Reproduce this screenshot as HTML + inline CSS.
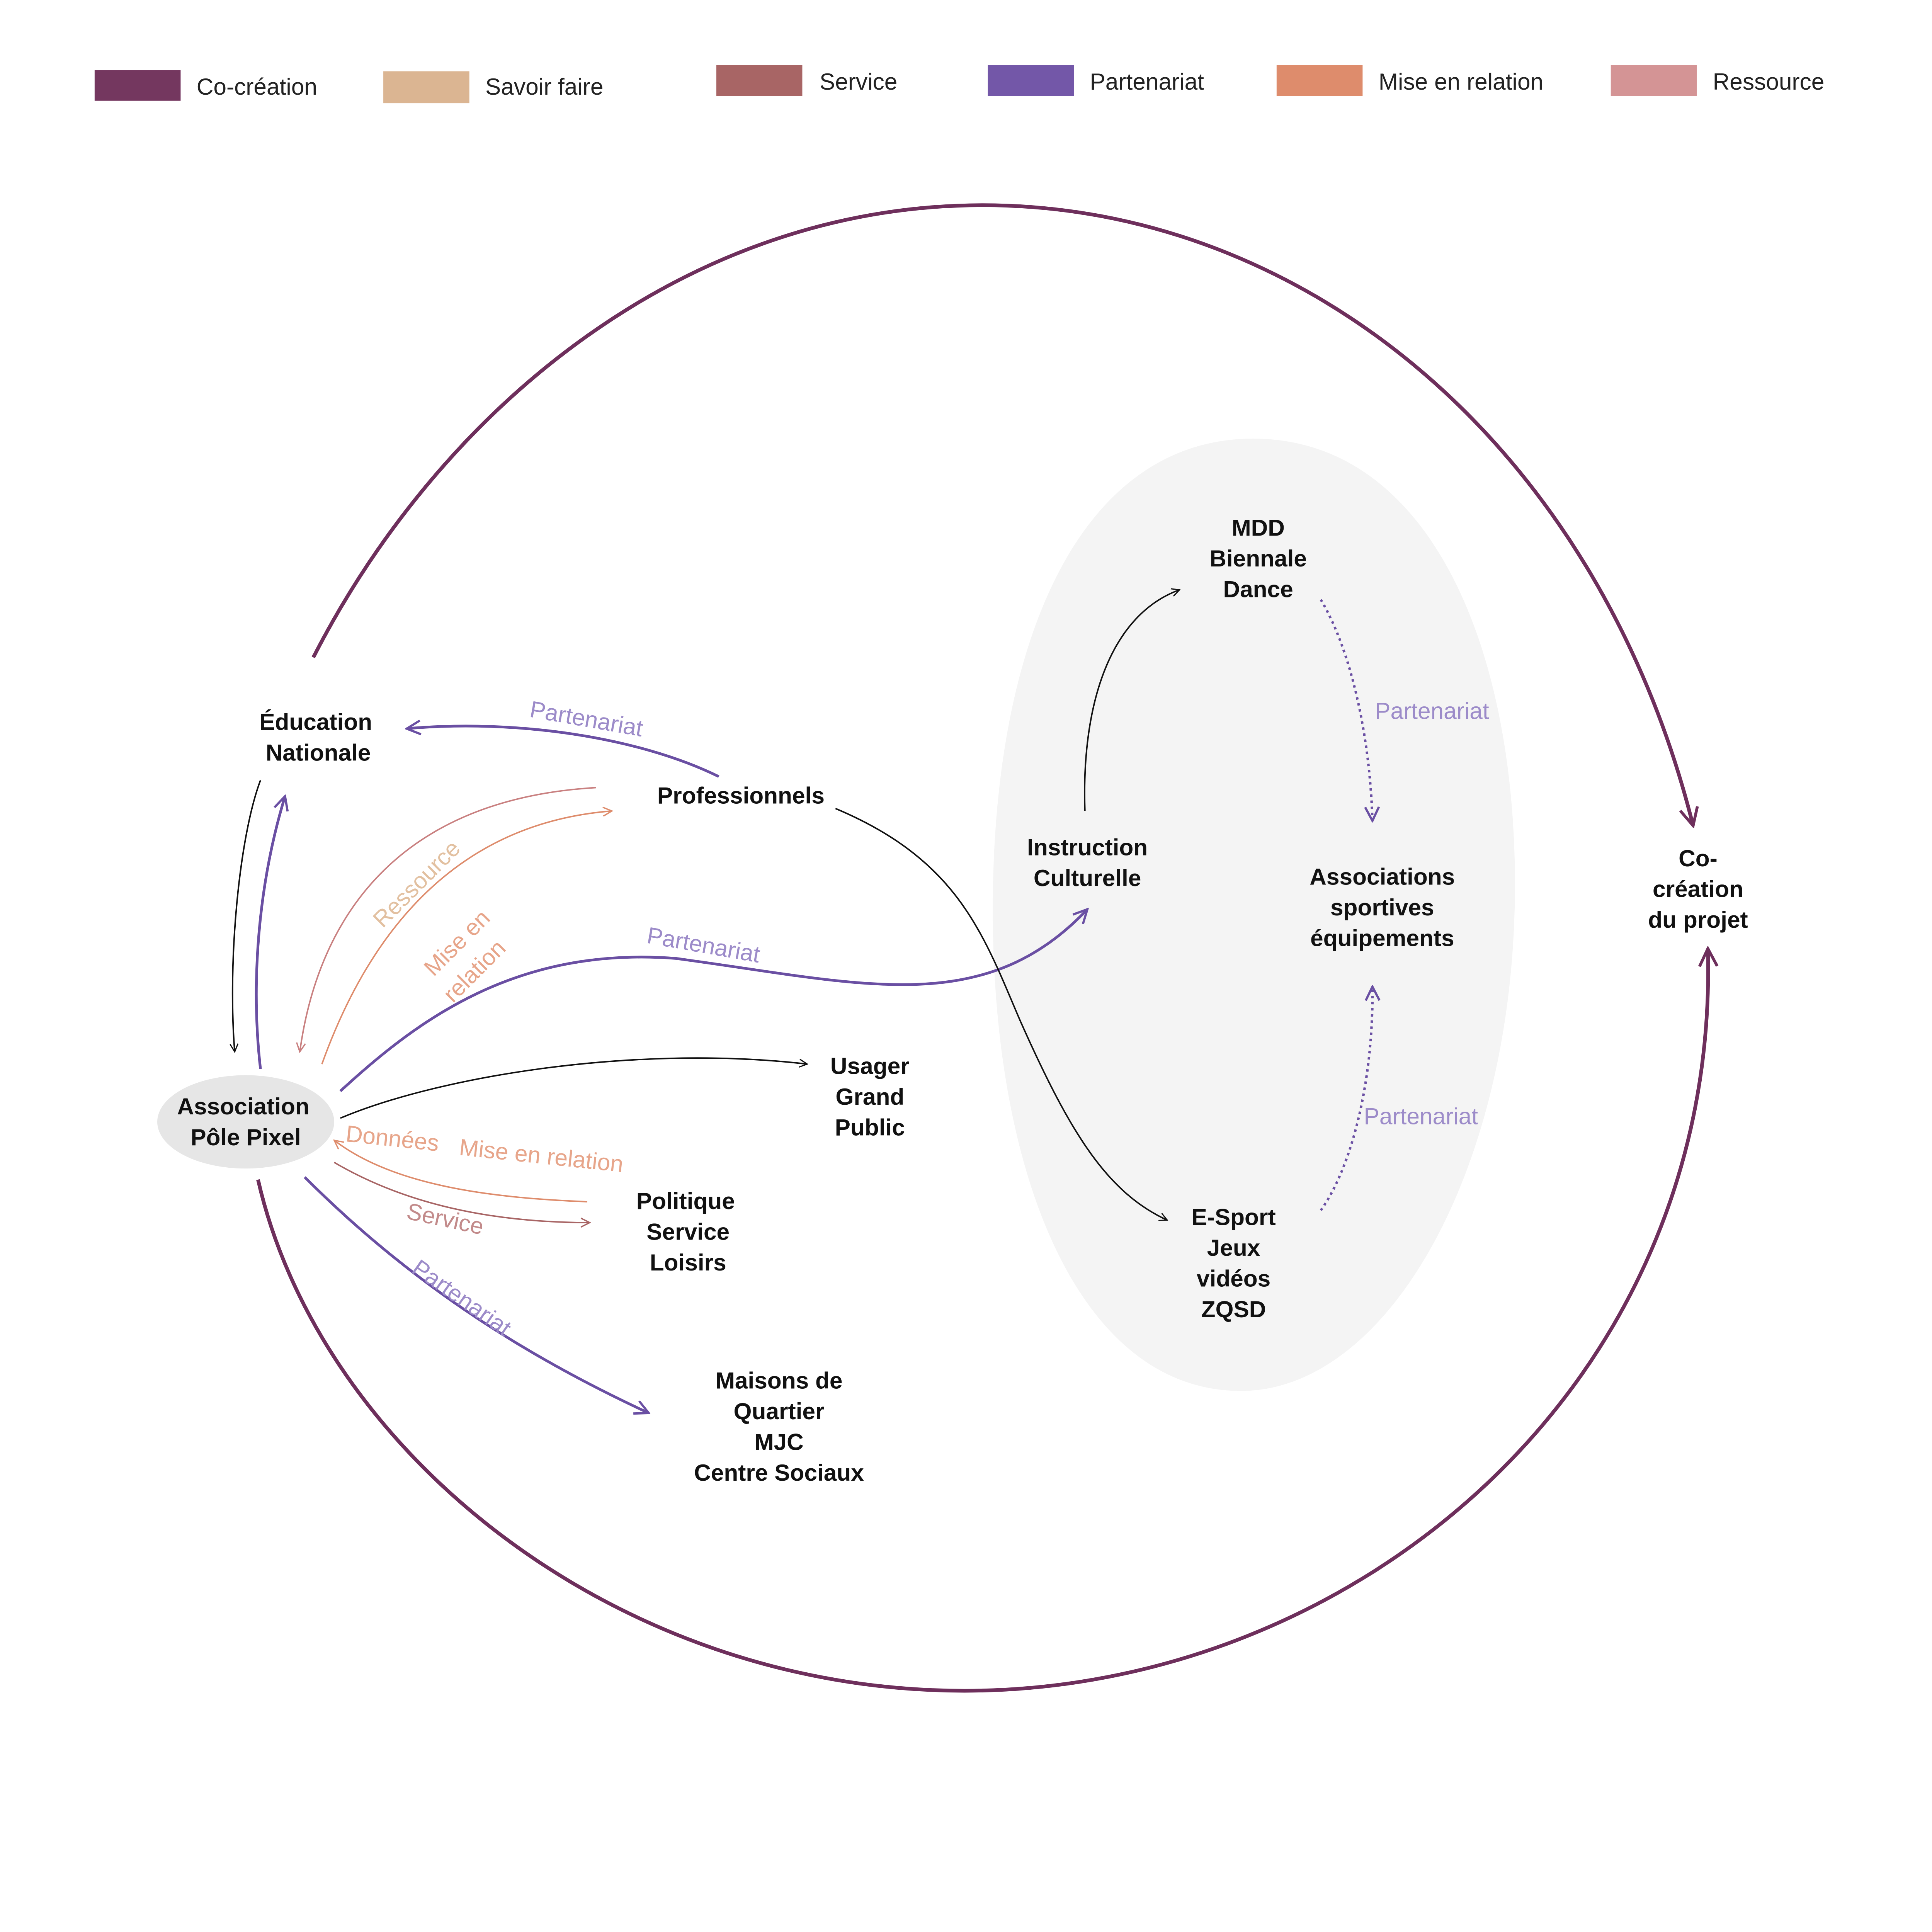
<!DOCTYPE html>
<html><head><meta charset="utf-8"><style>
html,body{margin:0;padding:0;background:#fff;overflow:hidden;}
svg{display:block;}
text{font-family:"Liberation Sans",sans-serif;}
.n{font-weight:bold;font-size:19px;fill:#111;text-anchor:middle;}
.l{font-size:19px;fill:#222;}
.e{font-size:19px;font-weight:300;}
</style></head><body>
<svg width="5288" height="5088" viewBox="0 0 1663 1600" preserveAspectRatio="none" xmlns="http://www.w3.org/2000/svg">
<defs>
<marker id="ab" viewBox="0 0 10 10" refX="9" refY="5" markerWidth="8" markerHeight="8" orient="auto-start-reverse" markerUnits="userSpaceOnUse"><path d="M1,1 L9,5 L1,9" fill="none" stroke="#111" stroke-width="1.2"/></marker>
<marker id="ap" viewBox="0 0 10 10" refX="9" refY="5" markerWidth="14" markerHeight="14" orient="auto" markerUnits="userSpaceOnUse"><path d="M1,1 L9,5 L1,9" fill="none" stroke="#6a4fa3" stroke-width="1.3"/></marker>
<marker id="ac" viewBox="0 0 10 10" refX="9" refY="5" markerWidth="18" markerHeight="18" orient="auto" markerUnits="userSpaceOnUse"><path d="M1,1 L9,5 L1,9" fill="none" stroke="#6e2f5c" stroke-width="1.3"/></marker>
<marker id="ao" viewBox="0 0 10 10" refX="9" refY="5" markerWidth="9" markerHeight="9" orient="auto" markerUnits="userSpaceOnUse"><path d="M1,1 L9,5 L1,9" fill="none" stroke="#de8c6c" stroke-width="1.2"/></marker>
<marker id="ar" viewBox="0 0 10 10" refX="9" refY="5" markerWidth="9" markerHeight="9" orient="auto" markerUnits="userSpaceOnUse"><path d="M1,1 L9,5 L1,9" fill="none" stroke="#c98080" stroke-width="1.2"/></marker>
<marker id="as" viewBox="0 0 10 10" refX="9" refY="5" markerWidth="9" markerHeight="9" orient="auto" markerUnits="userSpaceOnUse"><path d="M1,1 L9,5 L1,9" fill="none" stroke="#a86565" stroke-width="1.2"/></marker>
</defs>
<rect width="1663" height="1600" fill="#fff"/>
<rect x="77" y="57" width="70" height="25" fill="#74375f"/><text class="l" x="160" y="77">Co-création</text>
<rect x="312" y="58" width="70" height="26" fill="#dbb592"/><text class="l" x="395" y="77">Savoir faire</text>
<rect x="583" y="53" width="70" height="25" fill="#a86565"/><text class="l" x="667" y="73">Service</text>
<rect x="804" y="53" width="70" height="25" fill="#7357a8"/><text class="l" x="887" y="73">Partenariat</text>
<rect x="1039" y="53" width="70" height="25" fill="#de8c6c"/><text class="l" x="1122" y="73">Mise en relation</text>
<rect x="1311" y="53" width="70" height="25" fill="#d49495"/><text class="l" x="1394" y="73">Ressource</text>
<path d="M1020,357 C1160,357 1233,520 1233,720 C1233,950 1130,1132 1010,1132 C880,1132 808,960 808,740 C808,520 880,357 1020,357 Z" fill="#f4f4f4"/>
<ellipse cx="200" cy="913" rx="72" ry="38" fill="#e6e6e6"/>
<path d="M255,535 C360,330 560,167 800,167 C1060,167 1300,360 1378,672" fill="none" stroke="#6e2f5c" stroke-width="3" marker-end="url(#ac)"/>
<path d="M210,960 C260,1180 500,1376 785,1376 C1100,1376 1400,1130 1390,772" fill="none" stroke="#6e2f5c" stroke-width="3" marker-end="url(#ac)"/>
<path d="M212,635 C195,680 185,780 191,856" fill="none" stroke="#111" stroke-width="1.2" marker-end="url(#ab)"/>
<path d="M212,870 C204,800 210,720 232,648" fill="none" stroke="#6a4fa3" stroke-width="2.2" marker-end="url(#ap)"/>
<path d="M585,632 C520,600 420,585 331,593" fill="none" stroke="#6a4fa3" stroke-width="2.2" marker-end="url(#ap)"/>
<text class="e" x="430" y="592" fill="#9c8bc9" transform="rotate(10 480 590)">Partenariat</text>
<path d="M485,641 C330,650 260,740 244,856" fill="none" stroke="#c98080" stroke-width="1.2" marker-end="url(#ar)"/>
<path d="M262,866 C300,760 370,670 498,660" fill="none" stroke="#de8c6c" stroke-width="1.2" marker-end="url(#ao)"/>
<text class="e" x="278" y="735" fill="#e2c0a0" transform="rotate(-45 320 705)">Ressource</text>
<text class="e" x="330" y="780" fill="#e7a58a" transform="rotate(-45 360 760)">Mise en</text>
<text class="e" x="348" y="803" fill="#e7a58a" transform="rotate(-45 375 785)">relation</text>
<path d="M277,888 C340,830 420,770 550,780 C700,800 800,830 885,740" fill="none" stroke="#6a4fa3" stroke-width="2.2" marker-end="url(#ap)"/>
<text class="e" x="525" y="776" fill="#9c8bc9" transform="rotate(10 575 776)">Partenariat</text>
<path d="M680,658 C780,700 800,760 830,830 C870,920 900,970 950,993" fill="none" stroke="#111" stroke-width="1.2" marker-end="url(#ab)"/>
<path d="M883,660 C880,570 905,500 960,480" fill="none" stroke="#111" stroke-width="1.2" marker-end="url(#ab)"/>
<path d="M277,910 C360,875 520,850 657,866" fill="none" stroke="#111" stroke-width="1.2" marker-end="url(#ab)"/>
<path d="M478,978 C400,975 320,965 272,928" fill="none" stroke="#de8c6c" stroke-width="1.2" marker-end="url(#ao)"/>
<text class="e" x="281" y="933" fill="#e7a58a" transform="rotate(6 320 930)">Données</text>
<text class="e" x="372" y="947" fill="#e7a58a" transform="rotate(6 440 955)">Mise en relation</text>
<path d="M272,946 C330,980 400,995 480,995" fill="none" stroke="#a86565" stroke-width="1.2" marker-end="url(#as)"/>
<text class="e" x="330" y="998" fill="#c28a8a" transform="rotate(12 360 995)">Service</text>
<path d="M248,958 C330,1040 420,1100 528,1150" fill="none" stroke="#6a4fa3" stroke-width="2.2" marker-end="url(#ap)"/>
<text class="e" x="312" y="1055" fill="#9c8bc9" transform="rotate(35 355 1080)">Partenariat</text>
<path d="M1075,488 C1100,530 1115,600 1117,668" fill="none" stroke="#6a4fa3" stroke-width="2" stroke-dasharray="2,3" marker-end="url(#ap)"/>
<text class="e" x="1119" y="585" fill="#9c8bc9">Partenariat</text>
<path d="M1075,985 C1100,950 1118,880 1117,803" fill="none" stroke="#6a4fa3" stroke-width="2" stroke-dasharray="2,3" marker-end="url(#ap)"/>
<text class="e" x="1110" y="915" fill="#9c8bc9">Partenariat</text>
<text class="n" x="257" y="594">Éducation</text><text class="n" x="259" y="619">Nationale</text>
<text class="n" x="603" y="654">Professionnels</text>
<text class="n" x="198" y="907">Association</text><text class="n" x="200" y="932">Pôle Pixel</text>
<text class="n" x="708" y="874">Usager</text><text class="n" x="708" y="899">Grand</text><text class="n" x="708" y="924">Public</text>
<text class="n" x="558" y="984">Politique</text><text class="n" x="560" y="1009">Service</text><text class="n" x="560" y="1034">Loisirs</text>
<text class="n" x="634" y="1130">Maisons de</text><text class="n" x="634" y="1155">Quartier</text><text class="n" x="634" y="1180">MJC</text><text class="n" x="634" y="1205">Centre Sociaux</text>
<text class="n" x="1024" y="436">MDD</text><text class="n" x="1024" y="461">Biennale</text><text class="n" x="1024" y="486">Dance</text>
<text class="n" x="885" y="696">Instruction</text><text class="n" x="885" y="721">Culturelle</text>
<text class="n" x="1125" y="720">Associations</text><text class="n" x="1125" y="745">sportives</text><text class="n" x="1125" y="770">équipements</text>
<text class="n" x="1004" y="997">E-Sport</text><text class="n" x="1004" y="1022">Jeux</text><text class="n" x="1004" y="1047">vidéos</text><text class="n" x="1004" y="1072">ZQSD</text>
<text class="n" x="1382" y="705">Co-</text><text class="n" x="1382" y="730">création</text><text class="n" x="1382" y="755">du projet</text>
</svg>
</body></html>
